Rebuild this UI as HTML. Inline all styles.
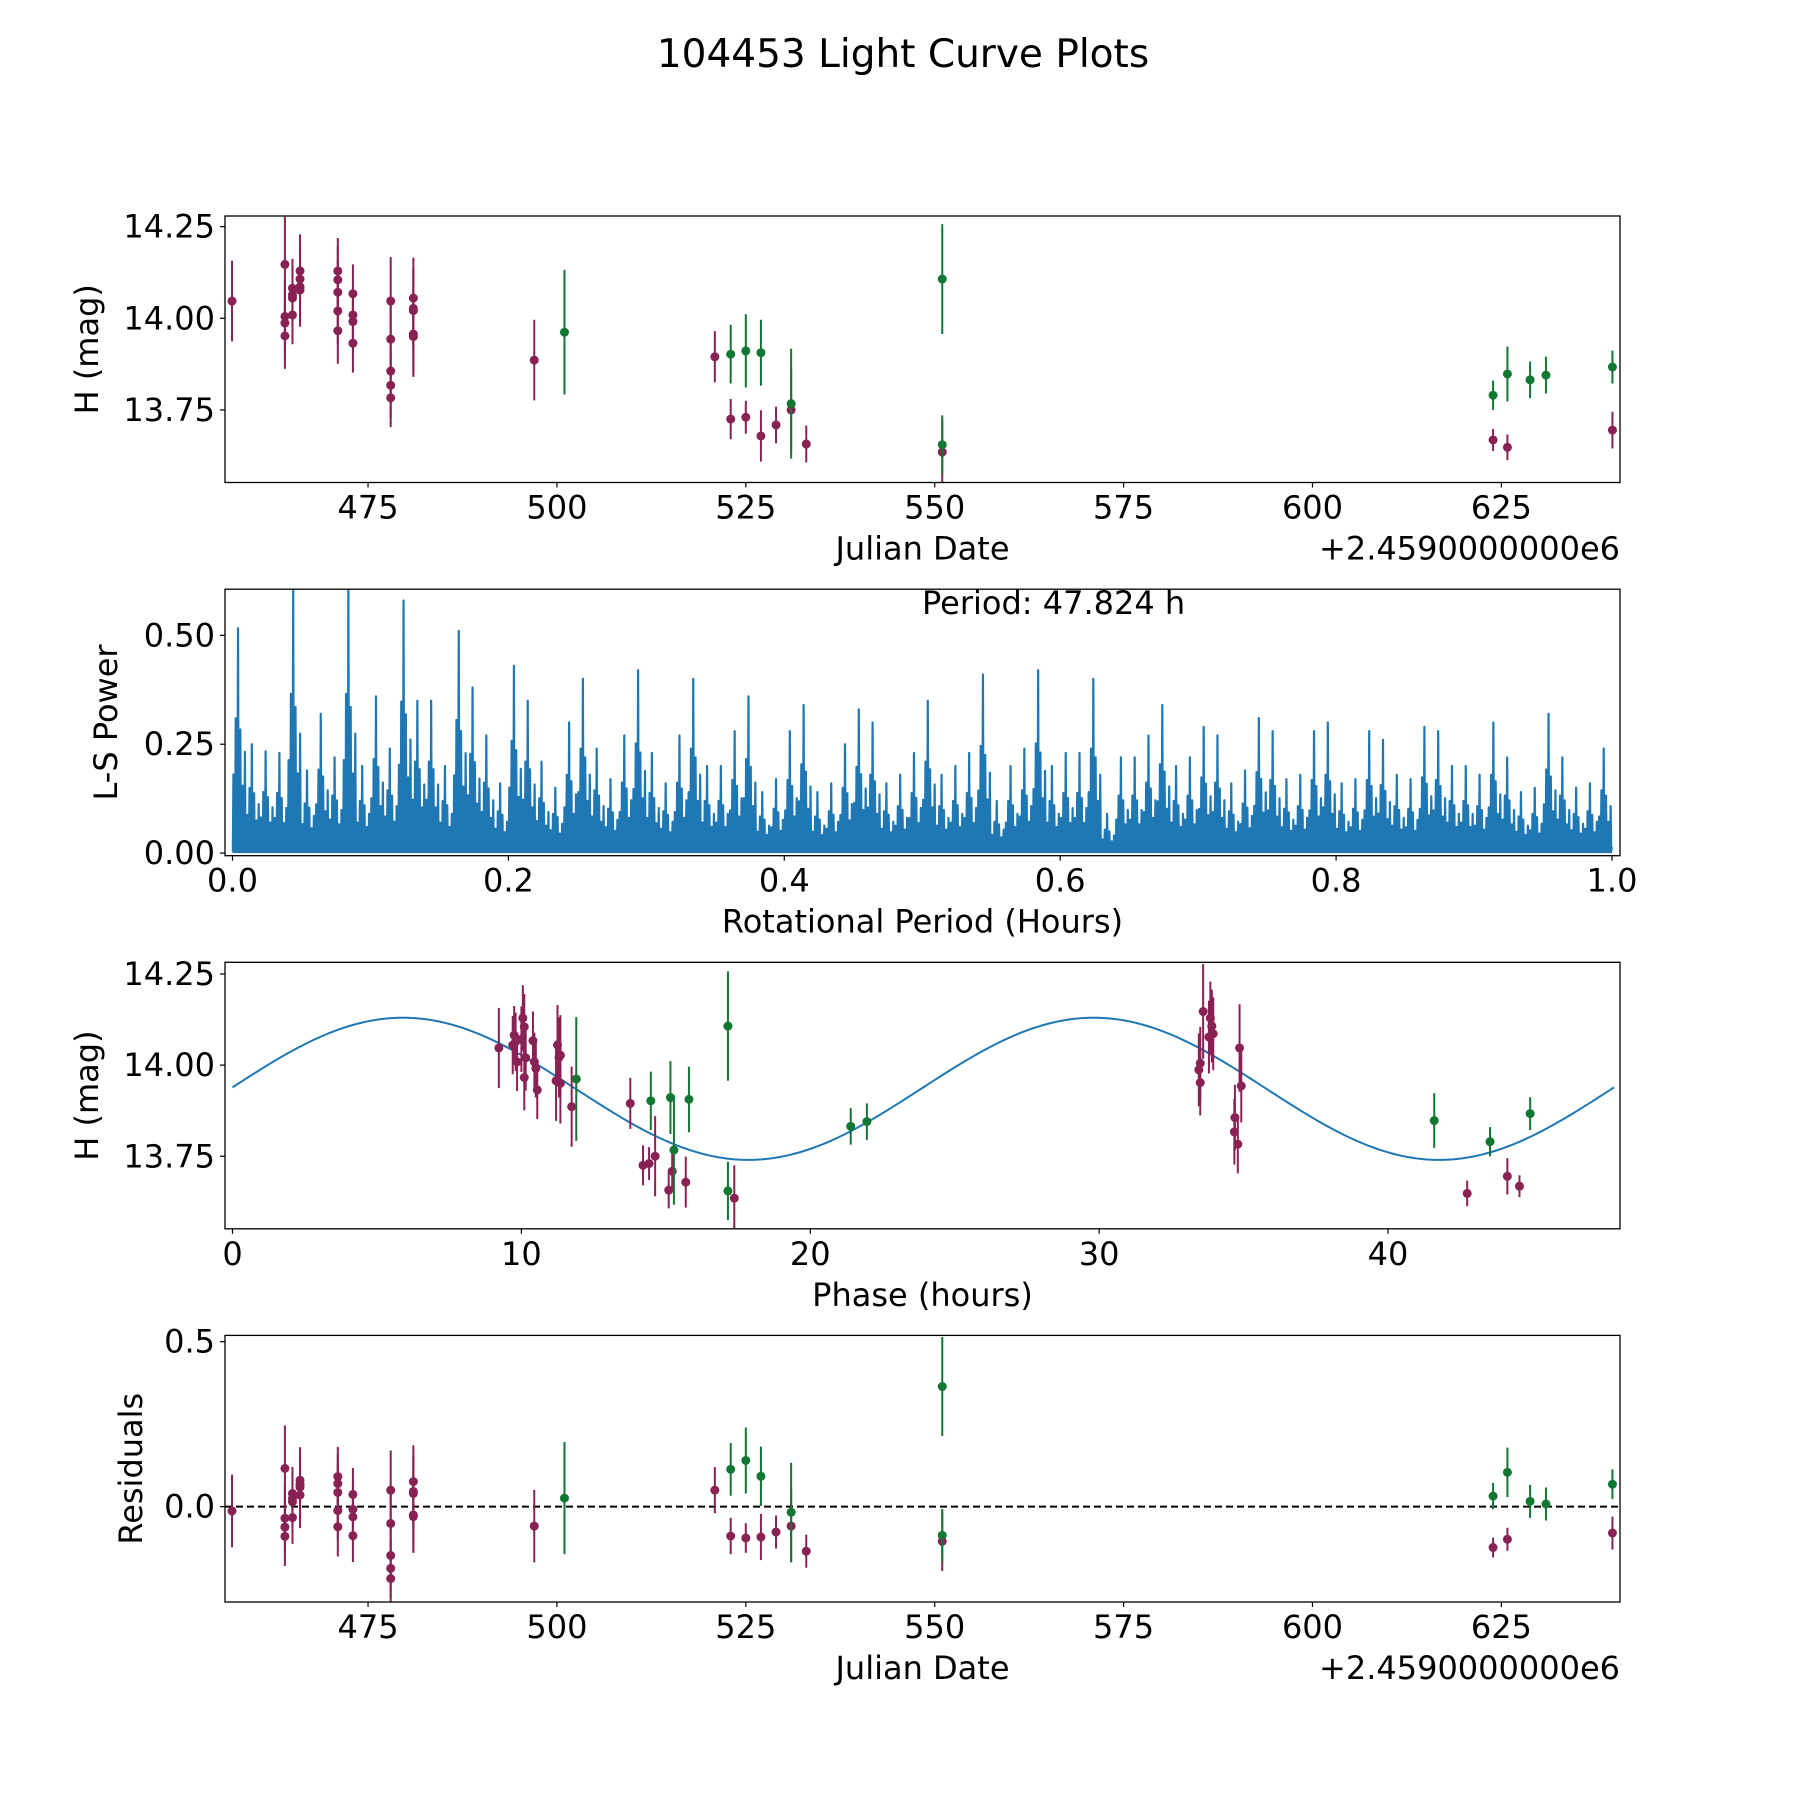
<!DOCTYPE html>
<html><head><meta charset="utf-8"><title>104453 Light Curve Plots</title>
<style>html,body{margin:0;padding:0;background:#fff}svg{display:block}text{font-family:"DejaVu Sans","Liberation Sans",sans-serif;fill:#000}</style>
</head><body>
<svg id="fig" width="1800" height="1800" viewBox="0 0 1800 1800" xmlns="http://www.w3.org/2000/svg">
<text x="903" y="67" font-size="39" text-anchor="middle">104453 Light Curve Plots</text>
</svg>
<script>
// ---- data (magenta series) ----
const tM=[457,464,464,464,464,465,465,465,465,466,466,466,466,471,471,471,471,471,473,473,473,473,478,478,478,478,478,481,481,481,481,481,497,520.9,523,525,527,529,531,533,551,623.9,625.8,639.7];
const magM=[14.047,14.147,14.005,13.987,13.952,14.082,14.064,14.055,14.009,14.129,14.107,14.086,14.077,14.129,14.105,14.071,14.02,13.966,14.067,14.009,13.991,13.932,14.047,13.943,13.856,13.817,13.783,14.055,14.027,14.021,13.957,13.95,13.886,13.895,13.725,13.73,13.679,13.709,13.75,13.657,13.635,13.668,13.648,13.695];
const errM=[0.11,0.13,0.1,0.1,0.09,0.08,0.08,0.08,0.08,0.1,0.1,0.1,0.1,0.09,0.09,0.09,0.09,0.09,0.08,0.08,0.08,0.08,0.12,0.1,0.09,0.09,0.08,0.11,0.11,0.11,0.11,0.11,0.11,0.07,0.055,0.045,0.07,0.05,0.11,0.05,0.09,0.03,0.035,0.05];
const phM=[9.22,33.6,33.5,33.45,33.5,9.75,9.8,9.7,9.85,33.85,33.9,33.95,33.8,10.05,10.1,10.0,10.15,10.1,10.4,10.45,10.5,10.55,34.86,34.92,34.7,34.68,34.8,11.25,11.35,11.3,11.2,11.35,11.74,13.77,14.21,14.42,15.69,15.22,14.63,15.1,17.37,44.55,42.74,44.13];
const resM=[-0.013,0.116,-0.035,-0.062,-0.09,0.04,0.025,0.015,-0.033,0.08,0.067,0.059,0.035,0.091,0.07,0.043,-0.012,-0.061,0.037,-0.008,-0.031,-0.088,0.05,-0.051,-0.148,-0.187,-0.218,0.076,0.046,0.04,-0.025,-0.03,-0.059,0.05,-0.089,-0.095,-0.092,-0.077,-0.059,-0.135,-0.105,-0.124,-0.099,-0.08];
// ---- data (green series) ----
const tG=[501,523,525,527,531,551,551,623.9,625.8,628.8,630.9,639.7];
const magG=[13.962,13.902,13.911,13.906,13.767,14.107,13.655,13.79,13.848,13.832,13.845,13.867];
const errG=[0.17,0.08,0.1,0.09,0.15,0.15,0.08,0.04,0.075,0.05,0.05,0.045];
const phG=[11.9,14.48,15.16,15.8,15.28,17.15,17.15,43.53,41.6,21.4,21.96,44.92];
const resG=[0.026,0.113,0.14,0.092,-0.017,0.364,-0.087,0.032,0.104,0.016,0.008,0.068];
// ---- periodogram peak power per 0.01-hour bin ----
const lsPeaks=[0.516,0.25,0.234,0.23,0.61,0.19,0.32,0.22,0.61,0.2,
0.36,0.24,0.58,0.35,0.35,0.2,0.51,0.38,0.27,0.16,
0.43,0.35,0.21,0.15,0.3,0.4,0.24,0.17,0.27,0.42,
0.23,0.16,0.27,0.4,0.2,0.2,0.28,0.36,0.14,0.17,
0.28,0.34,0.14,0.16,0.25,0.33,0.3,0.16,0.18,0.23,
0.35,0.18,0.2,0.23,0.41,0.12,0.2,0.24,0.42,0.2,
0.23,0.23,0.4,0.09,0.22,0.22,0.27,0.34,0.2,0.22,
0.29,0.27,0.16,0.19,0.31,0.28,0.17,0.18,0.28,0.3,
0.16,0.17,0.28,0.26,0.18,0.17,0.29,0.28,0.2,0.2,
0.18,0.3,0.22,0.14,0.15,0.32,0.22,0.15,0.16,0.24];
const lsBinWidth=0.01;
// ---- model fit ----
const modelMean=13.935, modelAmp=0.195, modelPeakPhase=5.9, modelPeriod=47.824;
const jdTicks=[475,500,525,550,575,600,625];
const magTicks=[13.75,14.00,14.25];
const powTicks=[0,0.25,0.5];
const perTicks=[0,0.2,0.4,0.6,0.8,1.0];
const phTicks=[0,10,20,30,40];
const resTicks=[0,0.5];

const NS='http://www.w3.org/2000/svg';
const svg=document.getElementById('fig');
const MAG='#882255', GRN='#117733', BLUE='#1f77b4';
const FS=32;
function mk(tag,attrs,parent){const e=document.createElementNS(NS,tag);for(const k in attrs)e.setAttribute(k,attrs[k]);(parent||svg).appendChild(e);return e;}
function scale(d0,d1,p0,p1){return v=>p0+(v-d0)/(d1-d0)*(p1-p0);}

const L=225,R=1620;
function panel(id,top,bot,xlim,ylim,xt,xfmt,yt,yfmt,xlabel,ylabel,ylx,offset){
  const g=mk('g',{});
  
  
  const x=scale(xlim[0],xlim[1],L,R), y=scale(ylim[0],ylim[1],bot,top);
  const cp=mk('clipPath',{id:'clip-'+id},g);
  mk('rect',{x:L,y:top,width:R-L,height:bot-top},cp);
  const plot=mk('g',{'clip-path':'url(#clip-'+id+')'},g);
  
  
  xt.forEach(v=>{const px=x(v);
    const tk=mk('line',{x1:px,x2:px,y1:bot,y2:bot+5,stroke:'#000','stroke-width':1.2},g);
    
    
    const tl=mk('text',{x:px,y:bot+36,'font-size':FS,'text-anchor':'middle'},g);tl.textContent=xfmt(v);
    
    });
  yt.forEach(v=>{const py=y(v);
    const tk=mk('line',{x1:L-5,x2:L,y1:py,y2:py,stroke:'#000','stroke-width':1.2},g);
    
    
    const tl=mk('text',{x:L-10,y:py+11,'font-size':FS,'text-anchor':'end'},g);tl.textContent=yfmt(v);
    
    });
  const xl=mk('text',{x:(L+R)/2,y:bot+77,'font-size':FS,'text-anchor':'middle'},g);xl.textContent=xlabel;
  
  
  const yl=mk('text',{x:ylx,y:(top+bot)/2,'font-size':FS,'text-anchor':'middle',transform:'rotate(-90 '+ylx+' '+(top+bot)/2+')'},g);yl.textContent=ylabel;
  
  
  if(offset){const o=mk('text',{x:R,y:bot+77,'font-size':FS,'text-anchor':'end'},g);o.textContent=offset;
    
    }
  return {g,plot,x,y,top,bot,frame:()=>{const f=mk('rect',{x:L,y:top,width:R-L,height:bot-top,fill:'none',stroke:'#000','stroke-width':1.3},g);
    
    }};
}
function errpts(p,xs,ys,es,col,name){
  xs.forEach((xv,i)=>{const px=p.x(xv),py=p.y(ys[i]);
    const bar=mk('line',{x1:px,x2:px,y1:p.y(ys[i]+es[i]),y2:p.y(ys[i]-es[i]),stroke:col,'stroke-width':2},p.plot);
    
    
    const c=mk('circle',{cx:px,cy:py,r:4.5,fill:col},p.plot);
    
    });
}
const f2=v=>v.toFixed(2), f1=v=>v.toFixed(1), f0=v=>String(v);

// Panel 1
const p1=panel('light-curve',216,482.5,[456.07,640.7],[13.552,14.279],jdTicks,f0,magTicks,f2,'Julian Date','H (mag)',98,'+2.4590000000e6');
errpts(p1,tM,magM,errM,MAG,'magenta-obs');errpts(p1,tG,magG,errG,GRN,'green-obs');p1.frame();

// Panel 2
const p2=panel('periodogram',589.2,855.7,[-0.00544,1.0058],[-0.006,0.606],perTicks,f1,powTicks,f2,'Rotational Period (Hours)','L-S Power',117,null);
const pattern=[0.35,0.08,0.6,0.12,1,0.2,0.55,0.05,0.3,0.15,0.45,0.06];
let d='';
lsPeaks.forEach((pk,i)=>{const x0=i*lsBinWidth;
  pattern.forEach((f,j)=>{const xa=x0+(j+0.3)/pattern.length*lsBinWidth;
    d+=(d?'L':'M')+p2.x(xa).toFixed(2)+' '+p2.y(0.003).toFixed(2)+'L'+p2.x(xa+lsBinWidth/pattern.length*0.5).toFixed(2)+' '+p2.y(pk*f).toFixed(2);});});
const ls=mk('path',{d:d,fill:'none',stroke:BLUE,'stroke-width':2.2,'stroke-linejoin':'round'},p2.plot);


const base=mk('rect',{x:p2.x(0),y:p2.y(0.02),width:p2.x(1)-p2.x(0),height:p2.y(0)-p2.y(0.02),fill:BLUE},p2.plot);


p2.frame();
const per=mk('text',{x:922,y:614,'font-size':FS},p2.g);per.textContent='Period: '+modelPeriod.toFixed(3)+' h';



// Panel 3
const p3=panel('phase-fold',962.3,1228.8,[-0.26,48.03],[13.551,14.282],phTicks,f0,magTicks,f2,'Phase (hours)','H (mag)',98,null);
let md='';
for(let k=0;k<=300;k++){const ph=k/300*modelPeriod;const m=modelMean+modelAmp*Math.cos(4*Math.PI*(ph-modelPeakPhase)/modelPeriod);
  md+=(k?'L':'M')+p3.x(ph).toFixed(2)+' '+p3.y(m).toFixed(2);}
const mc=mk('path',{d:md,fill:'none',stroke:BLUE,'stroke-width':2},p3.plot);


errpts(p3,phM,magM,errM,MAG,'magenta-phased');errpts(p3,phG,magG,errG,GRN,'green-phased');p3.frame();

// Panel 4
const p4=panel('residuals',1335.4,1602,[456.07,640.7],[-0.289,0.519],jdTicks,f0,resTicks,f1,'Julian Date','Residuals',142,'+2.4590000000e6');
const zl=mk('line',{x1:L,x2:R,y1:p4.y(0),y2:p4.y(0),stroke:'#000','stroke-width':2,'stroke-dasharray':'7,4'},p4.plot);


errpts(p4,tM,resM,errM,MAG,'magenta-residual');errpts(p4,tG,resG,errG,GRN,'green-residual');p4.frame();
</script>
</body></html>
